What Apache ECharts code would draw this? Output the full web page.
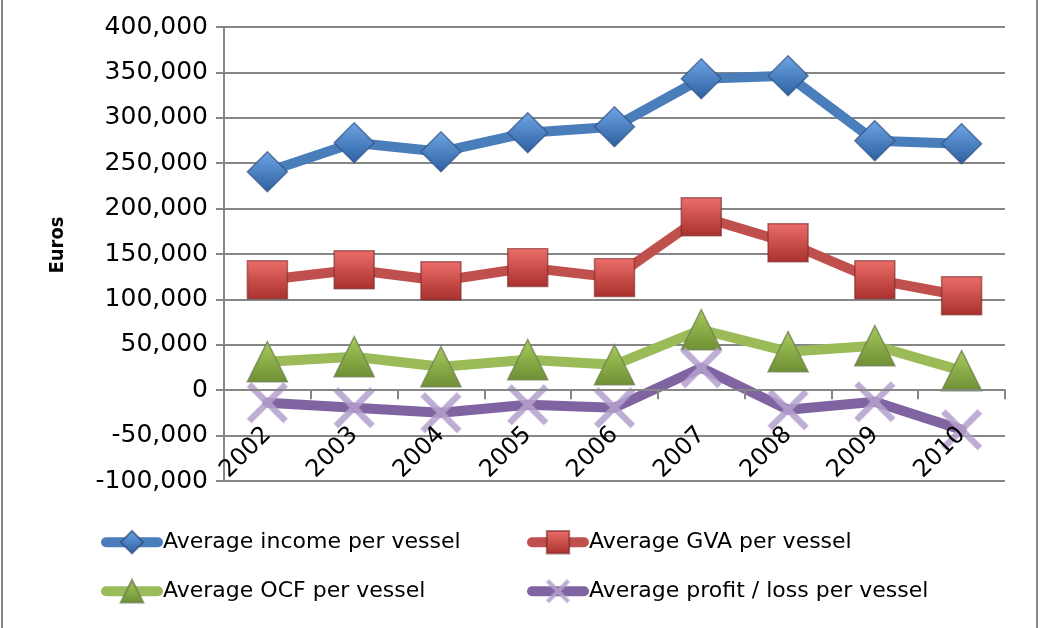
<!DOCTYPE html>
<html>
<head>
<meta charset="utf-8">
<title>Average economics per vessel</title>
<script src="https://cdn.jsdelivr.net/npm/echarts@6/dist/echarts.min.js"></script>
<style>
  html, body { margin:0; padding:0; background:#fff; }
  #chart { width:1044px; height:628px; }
</style>
</head>
<body>
<div id="chart"></div>
<script>
/* chart data */

// years on the x axis
const years = ['2002','2003','2004','2005','2006','2007','2008','2009','2010']

// series values (euros)
const income = [240600, 272500, 262600, 283600, 290200, 343000, 346300, 274800, 271500]
const gva    = [121700, 132700, 120600, 135000, 124000, 191000, 162400, 121700, 104000]
const ocf    = [31300, 36900, 25900, 33600, 28000, 66600, 42400, 49000, 21500]
const profit = [-13800, -19300, -24800, -16000, -19300, 24800, -21500, -12700, -43500]

// y axis range
const yMin = -100000
const yMax = 400000
const yStep = 50000

const FONT = 'DejaVu Sans'
const GRID_GREY = '#868686'

// gradient helper for the shaded markers
const shade = (top, bottom) => new echarts.graphic.LinearGradient(0, 0, 0, 1, [
    { offset: 0, color: top },
    { offset: 1, color: bottom }
])

const crossPath = 'path://M0,4 L4,0 L20,16 L36,0 L40,4 L24,20 L40,36 L36,40 L20,24 L4,40 L0,36 L16,20 Z'

// one line series
const lineSeries = (name, data, color, symbol, size, fill, border) => ({
    name,
    type: 'line',
    data,
    symbol,
    symbolSize: size,
    lineStyle: { color, width: 10, cap: 'round', join: 'round' },
    itemStyle: { color: fill, borderColor: border, borderWidth: 1.5 },
    emphasis: { disabled: true },
    animation: false
})

// one legend entry
const legendItem = (name, left, top) => ({
    data: [name],
    left, top,
    padding: 0,
    itemWidth: 52,
    itemHeight: 28,
    itemGap: 0,
    selectedMode: false,
    lineStyle: { width: 10, cap: 'round' },
    textStyle: { fontFamily: FONT, fontSize: 22, color: '#000' }
})

const chart = echarts.init(document.getElementById('chart'))

const option = {
    backgroundColor: '#fff',
    animation: false,
    grid: { left: 224, right: 39, top: 27, bottom: 147 },
    xAxis: {
        type: 'category',
        data: years,
        boundaryGap: true,
        z: 5,
        axisLine: { onZero: true, lineStyle: { color: GRID_GREY, width: 2 } },
        axisTick: { show: true, length: 9, lineStyle: { color: GRID_GREY, width: 2 } },
        axisLabel: { rotate: 45, margin: -50, fontFamily: FONT, fontSize: 24, color: '#000', interval: 0 },
        splitLine: { show: false }
    },
    yAxis: {
        type: 'value',
        min: yMin,
        max: yMax,
        interval: yStep,
        name: 'Euros',
        nameLocation: 'middle',
        nameRotate: 90,
        nameGap: 156,
        nameTextStyle: {
            fontFamily: 'DejaVu Sans Condensed', fontSize: 20, fontWeight: 'bold', color: '#000',
            padding: [0, 0, 0, 18]
        },
        axisLine: { show: true, lineStyle: { color: GRID_GREY, width: 2 } },
        axisTick: { show: true, length: 8, lineStyle: { color: GRID_GREY, width: 2 } },
        axisLabel: { margin: 16, fontFamily: FONT, fontSize: 25, color: '#000' },
        splitLine: { show: true, lineStyle: { color: GRID_GREY, width: 2 } }
    },
    legend: [
        legendItem('Average income per vessel', 101, 530),
        legendItem('Average GVA per vessel', 527, 530),
        legendItem('Average OCF per vessel', 101, 579),
        legendItem('Average profit / loss per vessel', 527, 579)
    ],
    graphic: [{
        type: 'rect',
        shape: { x: 2, y: -5, width: 1035, height: 645 },
        style: { fill: 'none', stroke: GRID_GREY, lineWidth: 2 },
        silent: true
    }],
    series: [
        lineSeries('Average income per vessel', income, '#4a7ebb', 'diamond', [40, 40],
            shade('#6ea6e6', '#2c5f9f'), 'rgba(50,80,130,0.7)'),
        lineSeries('Average GVA per vessel', gva, '#c0504d', 'rect', [40, 38],
            shade('#ec6e6a', '#a8302c'), 'rgba(120,40,40,0.6)'),
        lineSeries('Average OCF per vessel', ocf, '#9bbb59', 'triangle', [40, 40],
            shade('#a8cc5c', '#6e8e34'), 'rgba(110,130,80,0.8)'),
        lineSeries('Average profit / loss per vessel', profit, '#8064a2', crossPath, [40, 40],
            'rgba(180,160,205,0.85)', 'rgba(180,160,205,0.4)')
    ]
}

chart.setOption(option)
</script>
</body>
</html>
